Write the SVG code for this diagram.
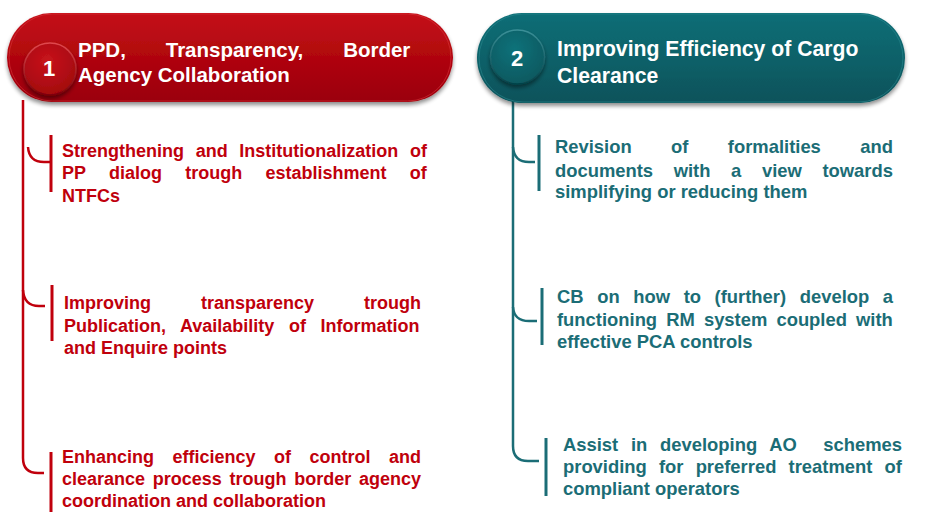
<svg xmlns="http://www.w3.org/2000/svg" width="939" height="512" viewBox="0 0 939 512">
<defs>
<linearGradient id="gRed" x1="0" y1="0" x2="0" y2="1">
<stop offset="0" stop-color="#C41018"/><stop offset="0.5" stop-color="#B0060E"/><stop offset="1" stop-color="#9A030A"/>
</linearGradient>
<linearGradient id="gTeal" x1="0" y1="0" x2="0" y2="1">
<stop offset="0" stop-color="#0E6E76"/><stop offset="0.5" stop-color="#0A6169"/><stop offset="1" stop-color="#07525A"/>
</linearGradient>
<radialGradient id="cRed" cx="0.45" cy="0.35" r="0.7">
<stop offset="0" stop-color="#C8141C"/><stop offset="1" stop-color="#A0050D"/>
</radialGradient>
<radialGradient id="cTeal" cx="0.45" cy="0.35" r="0.7">
<stop offset="0" stop-color="#0F727A"/><stop offset="1" stop-color="#08575E"/>
</radialGradient>
<linearGradient id="rimRed" x1="0" y1="0" x2="0" y2="1">
<stop offset="0" stop-color="#E0484E"/><stop offset="1" stop-color="#7A0208"/>
</linearGradient>
<linearGradient id="rimTeal" x1="0" y1="0" x2="0" y2="1">
<stop offset="0" stop-color="#3B9098"/><stop offset="1" stop-color="#054248"/>
</linearGradient>
<filter id="sh" x="-10%" y="-20%" width="120%" height="150%">
<feGaussianBlur in="SourceAlpha" stdDeviation="2"/>
<feOffset dx="0" dy="3" result="o"/>
<feComponentTransfer><feFuncA type="linear" slope="0.45"/></feComponentTransfer>
<feMerge><feMergeNode/><feMergeNode in="SourceGraphic"/></feMerge>
</filter>
</defs>
<style>
.t{font-family:"Liberation Sans",Arial,sans-serif;font-weight:bold}
.ttl{font-size:20.5px;fill:#fff}
.ttl2{font-size:21.2px;fill:#fff}
.num{font-size:22px;fill:#fff;text-anchor:middle}
.r{font-size:18px;fill:#C0000C}
.g{font-size:18.4px;fill:#1B6D76}
.e{text-anchor:end}
.lr{fill:none;stroke:#C0000C;stroke-width:2.5}
.lg{fill:none;stroke:#1B6D76;stroke-width:2.5}
.br{fill:none;stroke:#C0000C;stroke-width:3}
.bg{fill:none;stroke:#1B6D76;stroke-width:3}
</style>

<g id="connectors">
<path class="lr" d="M23,100 L23,458 Q23,473 38,473 L44,473"/>
<path class="lr" d="M28,147 Q29,162 44,162 L50,162"/>
<path class="lr" d="M23,290 Q24,306 39,306 L45,306"/>
<path class="lg" d="M513,100 L513,446 Q513,461 528,461 L539,461"/>
<path class="lg" d="M513,147 Q514,162 529,162 L535,162"/>
<path class="lg" d="M513,307 Q514,321 529,321 L537,321"/>
</g>

<g id="header1">
<rect x="7" y="13" width="446" height="89" rx="44.5" fill="url(#gRed)" filter="url(#sh)"/>
<rect x="9" y="14" width="442" height="87" rx="43.5" fill="none" stroke="#D8343A" stroke-width="1" opacity="0.6"/>
<circle cx="50" cy="69" r="26" fill="url(#cRed)" stroke="url(#rimRed)" stroke-width="1.5" filter="url(#sh)"/>
<text class="t num" x="49" y="76">1</text>
<text class="t ttl" x="78" y="57" style="word-spacing:34.2px">PPD, Transparency, Border</text>
<text class="t ttl" x="78" y="82">Agency Collaboration</text>
</g>

<g id="header2">
<rect x="477" y="13" width="428" height="90" rx="45" fill="url(#gTeal)" filter="url(#sh)"/>
<rect x="479" y="14" width="424" height="88" rx="44" fill="none" stroke="#2A8890" stroke-width="1" opacity="0.6"/>
<circle cx="517.5" cy="57" r="27" fill="url(#cTeal)" stroke="url(#rimTeal)" stroke-width="1.5" filter="url(#sh)"/>
<text class="t num" x="517" y="66">2</text>
<text class="t ttl2" x="557" y="56">Improving Efficiency of Cargo</text>
<text class="t ttl2" x="557" y="83">Clearance</text>
</g>

<g id="item-r1">
<line class="br" x1="51" y1="135" x2="51" y2="192"/>
<text class="t r" x="62" y="157" style="word-spacing:6.67px">Strengthening and Institutionalization of</text>
<text class="t r" x="62" y="179" style="word-spacing:18.25px">PP dialog trough establishment of</text>
<text class="t r" x="62" y="202">NTFCs</text>
</g>

<g id="item-r2">
<line class="br" x1="52" y1="285" x2="52" y2="341"/>
<text class="t r" x="64" y="309" style="word-spacing:45px">Improving transparency trough</text>
<text class="t r" x="64" y="332" style="word-spacing:9.63px">Publication, Availability of Information</text>
<text class="t r" x="64" y="354">and Enquire points</text>
</g>

<g id="item-r3">
<line class="br" x1="51" y1="452" x2="51" y2="512"/>
<text class="t r" x="62" y="463" style="word-spacing:13.5px">Enhancing efficiency of control and</text>
<text class="t r" x="62" y="485" style="word-spacing:2.72px">clearance process trough border agency</text>
<text class="t r" x="62" y="507">coordination and collaboration</text>
</g>

<g id="item-g1">
<line class="bg" x1="539" y1="135" x2="539" y2="191"/>
<text class="t g" x="555" y="153" style="word-spacing:34.3px">Revision of formalities and</text>
<text class="t g" x="555" y="177" style="word-spacing:15.5px">documents with a view towards</text>
<text class="t g" x="555" y="198">simplifying or reducing them</text>
</g>

<g id="item-g2">
<line class="bg" x1="542" y1="288" x2="542" y2="345"/>
<text class="t g" x="557" y="303" style="word-spacing:8.5px">CB on how to (further) develop a</text>
<text class="t g" x="557" y="326" style="word-spacing:4px">functioning RM system coupled with</text>
<text class="t g" x="557" y="348">effective PCA controls</text>
</g>

<g id="item-g3">
<line class="bg" x1="546" y1="438" x2="546" y2="496"/>
<text class="t g" x="563" y="451" style="word-spacing:7.66px">Assist in developing AO</text>
<text class="t g e" x="902" y="451">schemes</text>
<text class="t g" x="563" y="473" style="word-spacing:7.06px">providing for preferred treatment of</text>
<text class="t g" x="563" y="495">compliant operators</text>
</g>
</svg>
